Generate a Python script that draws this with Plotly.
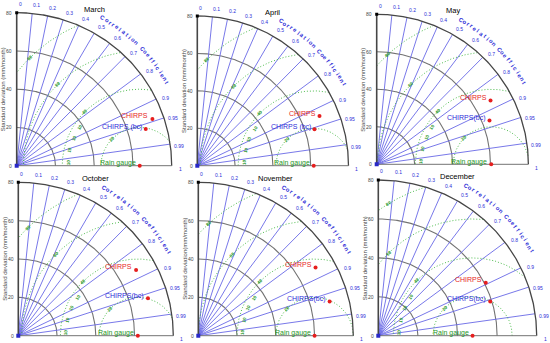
import numpy as np
import plotly.graph_objects as go

# ---------------- data ----------------
months = ["March", "April", "May", "October", "November", "December"]
ref_std = [63.5, 61.6, 60.4, 61.7, 60.0, 47.6]          # Rain gauge
chirps_std = [74.2, 69.9, 69.0, 69.8, 70.2, 60.7]
chirps_corr = [0.944, 0.925, 0.870, 0.871, 0.862, 0.894]
bc_std = [69.3, 65.0, 63.9, 69.7, 70.1, 59.2]
bc_corr = [0.961, 0.954, 0.931, 0.960, 0.967, 0.955]
bc_names = ["CHIRPS (bc)", "CHIRPS (bc)", "CHIRPS(bc)", "CHIRPS(bc)", "CHIRPS(bc)", "CHIRPS(bc)"]
ylabels = ["Standard deviation (mm/month)"] * 3 + ["Standard deviation (mm/month)",
           "Standard deviation(mm/month)", "Standard deviation (mm/month)"]
corr_ticks = [0, 0.1, 0.2, 0.3, 0.4, 0.5, 0.6, 0.7, 0.8, 0.9, 0.95, 0.99, 1]
corr_tick_text = ["0", "0.1", "0.2", "0.3", "0.4", "0.5", "0.6", "0.7", "0.8", "0.9", "0.95", "0.99", "1"]
corr_lines = [0.1, 0.2, 0.3, 0.4, 0.5, 0.6, 0.7, 0.8, 0.9, 0.95, 0.99]
std_ticks = [0, 20, 40, 60, 80]
std_tick_text = ["0", "20", "40", "60", "80"]
rms_levels = [20, 40, 60, 80]
rms_level_text = ["20", "40", "60", "80"]
cluster_angles = [177, 167, 157, 147]
cluster_text = ["10", "10", "10", "10"]
corr_title = "Correlation Coefficient"

# ---------------- style / geometry ----------------
W, H = 550, 343
SMAX = 80
# origin pixel (ox, oy) and pixels per unit (sx, sy) of each panel
panels = [
    (16.7, 165.7, 1.9375, 1.9125),
    (197.3, 165.7, 1.89, 1.871),
    (376.7, 164.3, 1.896, 1.875),
    (18.3, 335.7, 1.9375, 1.917),
    (198.3, 335.7, 1.9375, 1.917),
    (378.3, 335.7, 1.98, 1.946),
]
BLUE_LINE = "rgb(105,105,230)"
BLUE_TXT = "rgb(45,45,215)"
GRAY = "rgb(115,115,115)"
DARK = "rgb(70,70,70)"
GREEN = "rgb(30,150,30)"
GREEN_LINE = "rgb(60,180,60)"
RED = "rgb(230,30,30)"
FONT = "Liberation Sans, Arial, sans-serif"


def pol(r, c):
    th = np.arccos(np.clip(c, -1, 1))
    return r * np.cos(th), r * np.sin(th)


fig = go.Figure()
annotations = []
layout_axes = {}

for i, (ox, oy, sx, sy) in enumerate(panels):
    k = "" if i == 0 else str(i + 1)
    xa, ya = "x" + k, "y" + k
    px0 = max(0.0, ox - 10 * sx)
    px1 = min(W, ox + 96 * sx)
    py0 = max(0.0, oy - 92 * sy)
    py1 = min(H, oy + 6 * sy)
    layout_axes["xaxis" + k] = dict(domain=[px0 / W, px1 / W], range=[(px0 - ox) / sx, (px1 - ox) / sx],
                                    visible=False, anchor=ya, fixedrange=True)
    layout_axes["yaxis" + k] = dict(domain=[1 - py1 / H, 1 - py0 / H], range=[(oy - py1) / sy, (oy - py0) / sy],
                                    visible=False, anchor=xa, fixedrange=True)

    def add(**kw):
        fig.add_trace(go.Scatter(xaxis=xa, yaxis=ya, showlegend=False, hoverinfo="skip", **kw))

    def ann(x, y, text, size, color, **kw):
        d = dict(x=x, y=y, xref=xa, yref=ya, text=text, showarrow=False,
                 font=dict(size=size, color=color, family=FONT))
        d.update(kw)
        annotations.append(d)

    ang = np.linspace(0, np.pi / 2, 200)
    # std arcs
    gx, gy = [], []
    for s in std_ticks[1:-1]:
        gx += list(s * np.cos(ang)) + [None]
        gy += list(s * np.sin(ang)) + [None]
    add(x=gx, y=gy, mode="lines", line=dict(color=GRAY, width=1.1))
    # correlation radial lines
    lx, ly = [], []
    for c in corr_lines:
        ex, ey = pol(SMAX, c)
        lx += [0, ex, None]
        ly += [0, ey, None]
    add(x=lx, y=ly, mode="lines", line=dict(color=BLUE_LINE, width=0.9))
    # RMS difference arcs around reference
    r0 = ref_std[i]
    phi = np.linspace(0, np.pi, 400)
    rx, ry = [], []
    for d in rms_levels:
        xs = r0 + d * np.cos(phi)
        ys = d * np.sin(phi)
        ok = (xs >= 0) & (xs ** 2 + ys ** 2 <= SMAX ** 2)
        for x_, y_, o in zip(xs, ys, ok):
            rx.append(float(x_) if o else None)
            ry.append(float(y_) if o else None)
        rx.append(None)
        ry.append(None)
    add(x=rx, y=ry, mode="lines", line=dict(color=GREEN_LINE, width=0.9, dash="1px,2px"), connectgaps=False)
    # outer arc
    add(x=list(SMAX * np.cos(ang)), y=list(SMAX * np.sin(ang)), mode="lines", line=dict(color=DARK, width=1.3))
    # axes
    add(x=[0, SMAX], y=[0, 0], mode="lines", line=dict(color=GRAY, width=1))
    add(x=[0, 0], y=[0, SMAX], mode="lines", line=dict(color=DARK, width=1.6))
    add(x=[0], y=[SMAX], mode="markers", marker=dict(symbol="square", size=3, color="black"))
    add(x=[0], y=[0], mode="markers", marker=dict(symbol="square", size=4, color="rgb(40,40,200)"))

    # y ticks
    for s, t in zip(std_ticks, std_tick_text):
        ann(-1.2, s, t, 5, DARK, xanchor="right")
    ann(-7.0, 40, ylabels[i], 6, DARK, textangle=-90)
    # title
    ann(40, 81.8, months[i], 7.5, "black")
    # correlation labels
    for c, t in zip(corr_ticks, corr_tick_text):
        th = np.degrees(np.arccos(c)) - 1.2
        ann(84.5 * np.cos(np.radians(th)), 84.5 * np.sin(np.radians(th)), t, 5, BLUE_TXT)
    # curved title
    n = len(corr_title)
    for j, ch in enumerate(corr_title):
        if ch == " ":
            continue
        th = 60 - (60 - 29.2) * j / (n - 1)
        ann(89 * np.cos(np.radians(th)), 89 * np.sin(np.radians(th)), "<b>" + ch + "</b>", 5.8, BLUE_TXT,
            textangle=90 - th)
    # RMS labels
    for d, t in zip(rms_levels, rms_level_text):
        a = 135.0
        while a > 90 and (r0 + d * np.cos(np.radians(a)) < 5):
            a -= 1
        x_, y_ = r0 + d * np.cos(np.radians(a)), d * np.sin(np.radians(a))
        if x_ >= 0 and x_ ** 2 + y_ ** 2 <= SMAX ** 2:
            ann(x_, y_, "<b>" + t + "</b>", 4.5, GREEN, textangle=-(a - 90))
    for a, t in zip(cluster_angles, cluster_text):
        ann(r0 + 37 * np.cos(np.radians(a)), 37 * np.sin(np.radians(a)), "<b>" + t + "</b>", 4.5, GREEN,
            textangle=-(a - 90))

    # data points
    cx, cy = pol(chirps_std[i], chirps_corr[i])
    bx, by = pol(bc_std[i], bc_corr[i])
    add(x=[cx, bx, r0], y=[cy, by, 0], mode="markers", marker=dict(size=4, color=RED), cliponaxis=False)
    ann(cx - 1.0, cy + 1.6, "CHIRPS", 7, RED, xanchor="right")
    ann(bx - 1.0, by + 1.3, bc_names[i], 7, BLUE_TXT, xanchor="right")
    ann(r0 - 1.0, 1.4, "Rain gauge", 7, GREEN, xanchor="right")

fig.update_layout(width=W, height=H, margin=dict(l=0, r=0, t=0, b=0),
                  paper_bgcolor="white", plot_bgcolor="rgba(0,0,0,0)",
                  annotations=annotations, **layout_axes)
fig.write_html("out.html", config={"displayModeBar": False},
               post_script="document.body.style.margin='0px';document.body.style.overflow='hidden';")
